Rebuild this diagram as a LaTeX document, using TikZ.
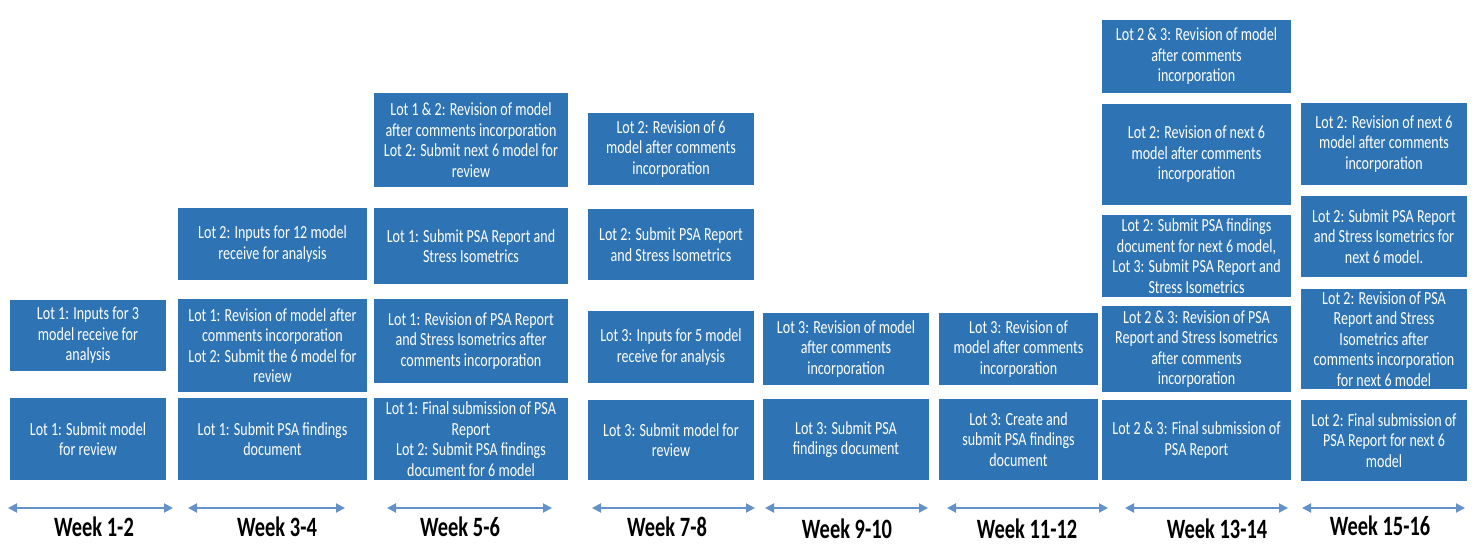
\documentclass[tikz,border=0pt]{standalone}
\usepackage{fontspec}
\usetikzlibrary{arrows.meta}
\newfontfamily\boxfont{Carlito}[FakeStretch=0.76]
\newfontfamily\labfont{Carlito}[FakeStretch=0.73]
\definecolor{boxblue}{RGB}{46,116,181}
\definecolor{arrblue}{RGB}{100,146,200}
\tikzset{
  bluebox/.style={fill=boxblue, draw=none, inner sep=0pt, align=center, text=white,
    font=\boxfont\fontsize{18.5}{20.5}\selectfont},
  weekarrow/.style={draw=arrblue, line width=2pt, {Triangle[length=9pt,width=9pt]}-{Triangle[length=9pt,width=9pt]}},
  weeklabel/.style={anchor=base, inner sep=0pt, font=\labfont\bfseries\fontsize{28}{30}\selectfont}
}
\newcommand{\mybox}[6]{\node[bluebox, minimum width={(#4-#2)*1pt}, minimum height={(#5-#3)*1pt}] (#1) at ({(#2+#4)/2},{(#3+#5)/2}) {#6};}
\newcommand{\myweek}[6]{%
  \coordinate (#1l) at (#2,508);
  \coordinate (#1r) at (#3,508);
  \draw[weekarrow] (#1l) -- (#1r);
  \node[weeklabel] (#1t) at (#4,#5) {#6};}
\begin{document}
\begin{tikzpicture}[x=1pt,y=-1pt]
\fill[white] (0,0) rectangle (1474,544);
\useasboundingbox (0,0) rectangle (1474,544);
% Column 1
\mybox{c1a}{10}{300}{166}{371}{Lot 1: Inputs for 3\\model receive for\\analysis}
\mybox{c1b}{10}{398}{166}{480}{Lot 1: Submit model\\for review}
% Column 2
\mybox{c2a}{178}{208}{367}{280}{Lot 2: Inputs for 12 model\\receive for analysis}
\mybox{c2b}{178}{299}{367}{392}{Lot 1: Revision of model after\\comments incorporation\\Lot 2: Submit the 6 model for\\review}
\mybox{c2c}{178}{398}{367}{480}{Lot 1: Submit PSA findings\\document}
% Column 3
\mybox{c3a}{374}{93}{568}{187}{Lot 1 \& 2: Revision of model\\after comments incorporation\\Lot 2: Submit next 6 model for\\review}
\mybox{c3b}{374}{208}{568}{284}{Lot 1: Submit PSA Report and\\Stress Isometrics}
\mybox{c3c}{374}{299}{568}{383}{Lot 1: Revision of PSA Report\\and Stress Isometrics after\\comments incorporation}
\mybox{c3d}{374}{398}{568}{480}{Lot 1: Final submission of PSA\\Report\\Lot 2: Submit PSA findings\\document for 6 model}
% Column 4
\mybox{c4a}{588}{113}{754}{185}{Lot 2: Revision of 6\\model after comments\\incorporation}
\mybox{c4b}{588}{209}{754}{280}{Lot 2: Submit PSA Report\\and Stress Isometrics}
\mybox{c4c}{588}{311}{754}{383}{Lot 3: Inputs for 5 model\\receive for analysis}
\mybox{c4d}{588}{400}{754}{480}{Lot 3: Submit model for\\review}
% Column 5
\mybox{c5a}{763}{313}{929}{385}{Lot 3: Revision of model\\after comments\\incorporation}
\mybox{c5b}{763}{399}{929}{480}{Lot 3: Submit PSA\\findings document}
% Column 6
\mybox{c6a}{939}{313}{1098}{385}{Lot 3: Revision of\\model after comments\\incorporation}
\mybox{c6b}{939}{399}{1098}{480}{Lot 3: Create and\\submit PSA findings\\document}
% Column 7
\mybox{c7a}{1102}{20}{1291}{93}{Lot 2 \& 3: Revision of model\\after comments\\incorporation}
\mybox{c7b}{1102}{104}{1291}{205}{Lot 2: Revision of next 6\\model after comments\\incorporation}
\mybox{c7c}{1102}{215}{1291}{297}{Lot 2: Submit PSA findings\\document for next 6 model,\\Lot 3: Submit PSA Report and\\Stress Isometrics}
\mybox{c7d}{1102}{306}{1291}{392}{Lot 2 \& 3: Revision of PSA\\Report and Stress Isometrics\\after comments\\incorporation}
\mybox{c7e}{1102}{400}{1291}{480}{Lot 2 \& 3: Final submission of\\PSA Report}
% Column 8
\mybox{c8a}{1301}{103}{1467}{185}{Lot 2: Revision of next 6\\model after comments\\incorporation}
\mybox{c8b}{1301}{196}{1467}{277}{Lot 2: Submit PSA Report\\and Stress Isometrics for\\next 6 model.}
\mybox{c8c}{1301}{289}{1467}{389}{Lot 2: Revision of PSA\\Report and Stress\\Isometrics after\\comments incorporation\\for next 6 model}
\mybox{c8d}{1301}{400}{1467}{481}{Lot 2: Final submission of\\PSA Report for next 6\\model}
% Week arrows and labels
\myweek{w1}{8}{173}{94}{536}{Week 1-2}
\myweek{w2}{188}{345}{277}{536}{Week 3-4}
\myweek{w3}{387}{552}{460}{536}{Week 5-6}
\myweek{w4}{592}{755}{667}{536}{Week 7-8}
\myweek{w5}{765}{928}{847}{538}{Week 9-10}
\myweek{w6}{947}{1108}{1027}{538}{Week 11-12}
\myweek{w7}{1125}{1288}{1217}{538}{Week 13-14}
\myweek{w8}{1302}{1465}{1380}{535}{Week 15-16}
\end{tikzpicture}
\end{document}
